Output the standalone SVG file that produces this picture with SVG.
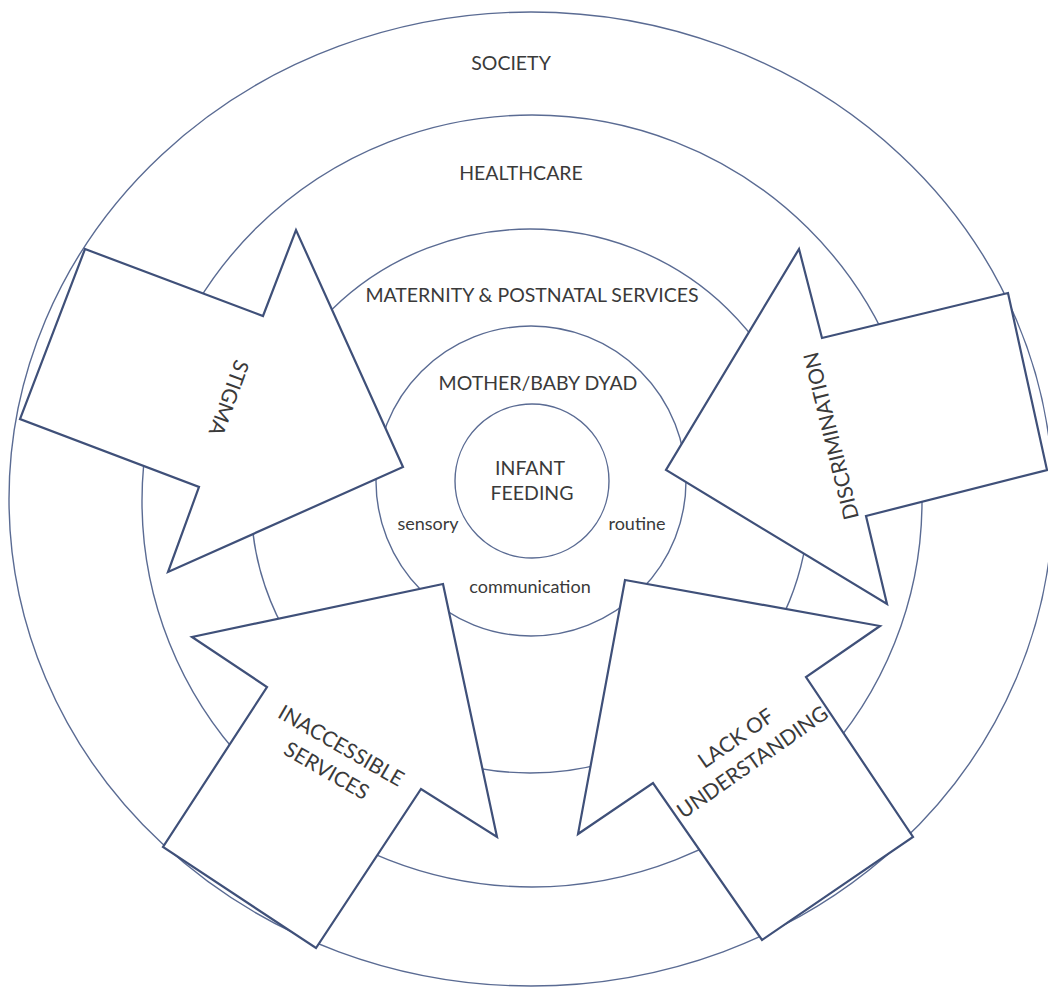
<svg xmlns="http://www.w3.org/2000/svg" width="1048" height="990" viewBox="0 0 1048 990">
  <style>
    .ring { fill: none; stroke: #5a6b93; stroke-width: 1.4; }
    .arrow { fill: #ffffff; stroke: #3f5079; stroke-width: 2.2; stroke-linejoin: miter; }
    .lbl { font-family: Lato, "Liberation Sans", sans-serif; fill: #3a3a3a; text-anchor: middle; }
    .cap { font-size: 19.5px; }
    .small { font-size: 18px; }
    .big { font-size: 21px; }
  </style>
  <rect width="1048" height="990" fill="#ffffff"/>

  <g id="ring-society">
    <ellipse class="ring" cx="531" cy="499" rx="522" ry="487"/>
    <text class="lbl cap" x="511" y="70">SOCIETY</text>
  </g>
  <g id="ring-healthcare">
    <ellipse class="ring" cx="532" cy="501" rx="390" ry="386"/>
    <text class="lbl cap" x="521" y="180">HEALTHCARE</text>
  </g>
  <g id="ring-maternity">
    <ellipse class="ring" cx="530" cy="501" rx="279" ry="272"/>
    <text class="lbl cap" x="532" y="302">MATERNITY &amp; POSTNATAL SERVICES</text>
  </g>
  <g id="ring-dyad">
    <circle class="ring" cx="531" cy="481" r="155"/>
    <text class="lbl cap" x="538" y="390">MOTHER/BABY DYAD</text>
    <text class="lbl small" x="428" y="530">sensory</text>
    <text class="lbl small" x="637" y="530">routine</text>
    <text class="lbl small" x="530" y="593">communication</text>
  </g>
  <g id="node-infant-feeding">
    <circle class="ring" cx="532" cy="481" r="77"/>
    <text class="lbl cap" x="530" y="475">INFANT</text>
    <text class="lbl cap" x="532" y="500">FEEDING</text>
  </g>

  <g id="connectors">
    <g id="arrow-stigma">
      <polygon class="arrow" points="85,249 263,316 296,230 403,467 168,572 199,487 20,419"/>
      <text class="lbl big" transform="translate(229,398) rotate(110)" x="0" y="7.5">STIGMA</text>
    </g>
    <g id="arrow-discrimination">
      <polygon class="arrow" points="799,249 822,338 1008,293 1047,470 866,516 887,604 666,470"/>
      <text class="lbl big" transform="translate(831,436) rotate(-104)" x="0" y="7.5">DISCRIMINATION</text>
    </g>
    <g id="arrow-inaccessible">
      <polygon class="arrow" points="443,584 497,837 421,789 316,948 163,847 267,687 192,637"/>
      <text class="lbl big" transform="translate(334,758) rotate(30)" x="0" y="-7">INACCESSIBLE</text>
      <text class="lbl big" transform="translate(334,758) rotate(30)" x="0" y="22">SERVICES</text>
    </g>
    <g id="arrow-lack">
      <polygon class="arrow" points="625,580 880,626 806,677 913,837 762,940 653,783 578,834"/>
      <text class="lbl big" transform="translate(744,750) rotate(-35)" x="0" y="-7">LACK OF</text>
      <text class="lbl big" transform="translate(744,750) rotate(-35)" x="0" y="22">UNDERSTANDING</text>
    </g>
  </g>
</svg>
